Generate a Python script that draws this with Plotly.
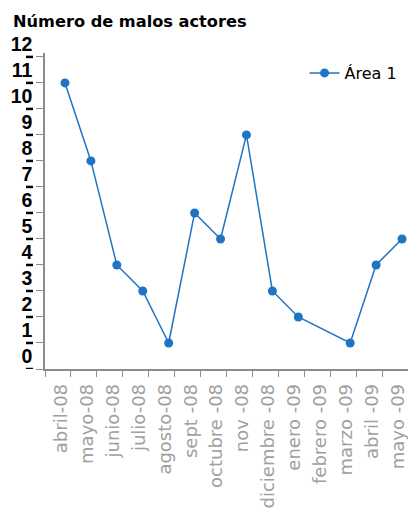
import plotly.graph_objects as go

# Monthly counts of bad actors, April 2008 - May 2009 (February 2009 has no value)
months = ["abril-08", "mayo-08", "junio-08", "julio-08", "agosto-08", "sept -08",
          "octubre -08", "nov -08", "diciembre -08", "enero -09", "febrero -09",
          "marzo -09", "abril -09", "mayo -09"]
area1 = [11, 8, 4, 3, 1, 6, 5, 9, 3, 2, None, 1, 4, 5]
y_ticks = list(range(0, 13))
series_name = "Área 1"
title_text = "Número de malos actores"

# page geometry (pixels)
W, H = 408, 510
M_L, M_R, M_T, M_B = 45, 0, 53, 141
plot_w = W - M_L - M_R

BLUE = "#1f74c3"
AXIS_GREY = "#8c8c8c"
LABEL_GREY = "#a0a0a0"

idx = list(range(len(months)))
x_lo, x_hi = -0.77, len(months) - 0.77

fig = go.Figure()
fig.add_trace(go.Scatter(
    x=idx, y=area1, name=series_name, mode="lines+markers",
    connectgaps=True,
    line=dict(color=BLUE, width=1.5),
    marker=dict(color=BLUE, size=9),
    cliponaxis=False,
))
# invisible trace that carries the tick-only bottom axis
fig.add_trace(go.Scatter(x=[x_lo, x_hi], y=[None, None], xaxis="x2",
                         showlegend=False, hoverinfo="skip"))

# short black dashes next to each y tick
dash_x0 = -(M_L - 26) / plot_w
dash_x1 = -(M_L - 33) / plot_w
shapes = [dict(type="line", xref="paper", yref="y", x0=dash_x0, x1=dash_x1,
               y0=v, y1=v, line=dict(color="black", width=2.5))
          for v in y_ticks]

fig.update_layout(
    width=W, height=H,
    margin=dict(l=M_L, r=M_R, t=M_T, b=M_B, pad=0, autoexpand=False),
    paper_bgcolor="white", plot_bgcolor="white",
    title=dict(text=f"<b>{title_text}</b>", xref="container", yref="container",
               x=13 / W, xanchor="left", y=1 - 21 / H, yanchor="middle",
               font=dict(family="DejaVu Sans", size=16.2, color="black")),
    xaxis=dict(range=[x_lo, x_hi], tickmode="array", automargin=False,
               tickvals=[i - 0.15 for i in idx], ticktext=months,
               tickangle=-90, ticks="", ticklabelstandoff=6,
               ticklabeloverflow="allow",
               showgrid=False, zeroline=False,
               showline=True, linecolor=AXIS_GREY, linewidth=1.5,
               tickfont=dict(family="DejaVu Sans", size=18, color=LABEL_GREY)),
    xaxis2=dict(overlaying="x", anchor="y", side="bottom", range=[x_lo, x_hi],
                tickmode="array", tickvals=[i + 0.23 for i in [-1] + idx],
                showticklabels=False, ticks="outside", ticklen=7,
                tickcolor=AXIS_GREY, tickwidth=1.2, showgrid=False,
                zeroline=False, showline=False, automargin=False),
    yaxis=dict(range=[0, 12.15], tickmode="array", tickvals=y_ticks,
               ticktext=[str(v) for v in y_ticks], ticks="outside", ticklen=7,
               tickcolor=AXIS_GREY, tickwidth=1.2, ticklabelshift=-13,
               ticklabelstandoff=0, automargin=False,
               showgrid=False, zeroline=False, showline=True,
               linecolor=AXIS_GREY, linewidth=1.5,
               tickfont=dict(family="Liberation Sans", size=19.5, color="black",
                             weight="bold")),
    legend=dict(x=0.985, xanchor="right", y=1 - 20 / (H - M_T - M_B),
                yanchor="middle", bgcolor="rgba(0,0,0,0)",
                font=dict(family="DejaVu Sans", size=16, color="black")),
    shapes=shapes,
    showlegend=True,
)

fig.write_html("out.html")
